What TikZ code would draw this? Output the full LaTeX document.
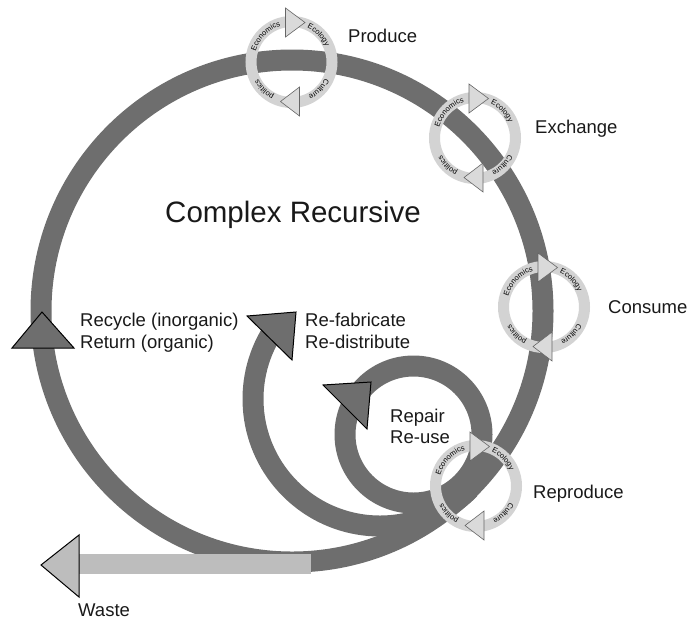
\documentclass[tikz,border=0pt]{standalone}
\usepackage{fontspec}
\setmainfont{Liberation Sans}
\usetikzlibrary{decorations.text}
\definecolor{bandgray}{HTML}{6E6E6E}
\definecolor{ringgray}{HTML}{D3D3D3}
\definecolor{trigray}{HTML}{DADADA}
\definecolor{wastegray}{HTML}{BDBDBD}
\newcommand\ringfont{\fontsize{7.5}{8}\selectfont}
\newcommand\ecoring[3]{%
  \begin{scope}[shift={(#1,#2)}]
    \coordinate (#3) at (0,0);
    \draw[draw=ringgray,line width=11pt] (#3) circle[radius=40.5];
    \path[decorate,decoration={text along path,text align=center,text={|\ringfont|Economics}}]
      (185:37.5) arc[start angle=185,end angle=265,radius=37.5];
    \path[decorate,decoration={text along path,text align=center,text={|\ringfont|Ecology}}]
      (275:37.5) arc[start angle=275,end angle=355,radius=37.5];
    \path[decorate,decoration={text along path,text align=center,text={|\ringfont|Culture}}]
      (5:37.5) arc[start angle=5,end angle=85,radius=37.5];
    \path[decorate,decoration={text along path,text align=center,text={|\ringfont|politics}}]
      (95:37.5) arc[start angle=95,end angle=175,radius=37.5];
    \filldraw[ringtri] (-6,-54) -- (13.5,-39.5) -- (-6,-25) -- cycle;
    \filldraw[ringtri] (8,25) -- (-11,39.5) -- (8,54) -- cycle;
  \end{scope}}

\begin{document}
\begin{tikzpicture}[x=1pt,y=-1pt,
  bandline/.style={draw=bandgray,line width=21pt},
  bigarrow/.style={fill=bandgray,draw=black,line width=1pt,line join=miter},
  ringtri/.style={fill=trigray,draw=black!60,line width=0.6pt,line join=miter},
  lbl/.style={anchor=base west,font=\fontsize{18.5}{22}\selectfont,inner sep=0pt,text=black!90},
]
\useasboundingbox (0,0) rectangle (690,622);

% main loop
\coordinate (C) at (292,311);
\draw[bandline] (C) circle[radius=251];

% re-fabricate arc
\coordinate (F) at (380,399);
\draw[bandline] (F) ++(45:127) arc[start angle=45,end angle=212,radius=127];

% repair loop
\coordinate (R) at (413.5,434.5);
\draw[bandline] (R) circle[radius=68.5];

% waste bar
\fill[wastegray] (78,554) rectangle (311,574);
\filldraw[fill=wastegray,draw=black,line width=1pt,line join=miter] (41,565) -- (79,535) -- (79,597) -- cycle;

% rings
\ecoring{291.5}{62}{pr}
\ecoring{475}{138}{ex}
\ecoring{544}{307}{co}
\ecoring{476}{486}{re}

% big arrowheads
\filldraw[bigarrow] (42,312) -- (74,348) -- (12,348) -- cycle;
\filldraw[bigarrow] (296,312) -- (292,360) -- (247,316) -- cycle;
\filldraw[bigarrow] (371,382) -- (367,429) -- (323,385) -- cycle;

% labels
\node[anchor=base west,inner sep=0pt,font=\fontsize{29.5}{34}\selectfont,text=black!90] (title) at (165,222) {Complex Recursive};
\node[lbl] (produce) at (348,42) {Produce};
\node[lbl] (exchange) at (535,133) {Exchange};
\node[lbl] (consume) at (608,313) {Consume};
\node[lbl] (reproduce) at (533,498) {Reproduce};
\node[lbl] (recycle) at (80,326) {Recycle (inorganic)};
\node[lbl] (return) at (80,348) {Return (organic)};
\node[lbl] (refab) at (305,326) {Re-fabricate};
\node[lbl] (redist) at (305,348) {Re-distribute};
\node[lbl] (repair) at (390,422) {Repair};
\node[lbl] (reuse) at (390,443) {Re-use};
\node[lbl] (waste) at (78,616) {Waste};
\end{tikzpicture}
\end{document}
